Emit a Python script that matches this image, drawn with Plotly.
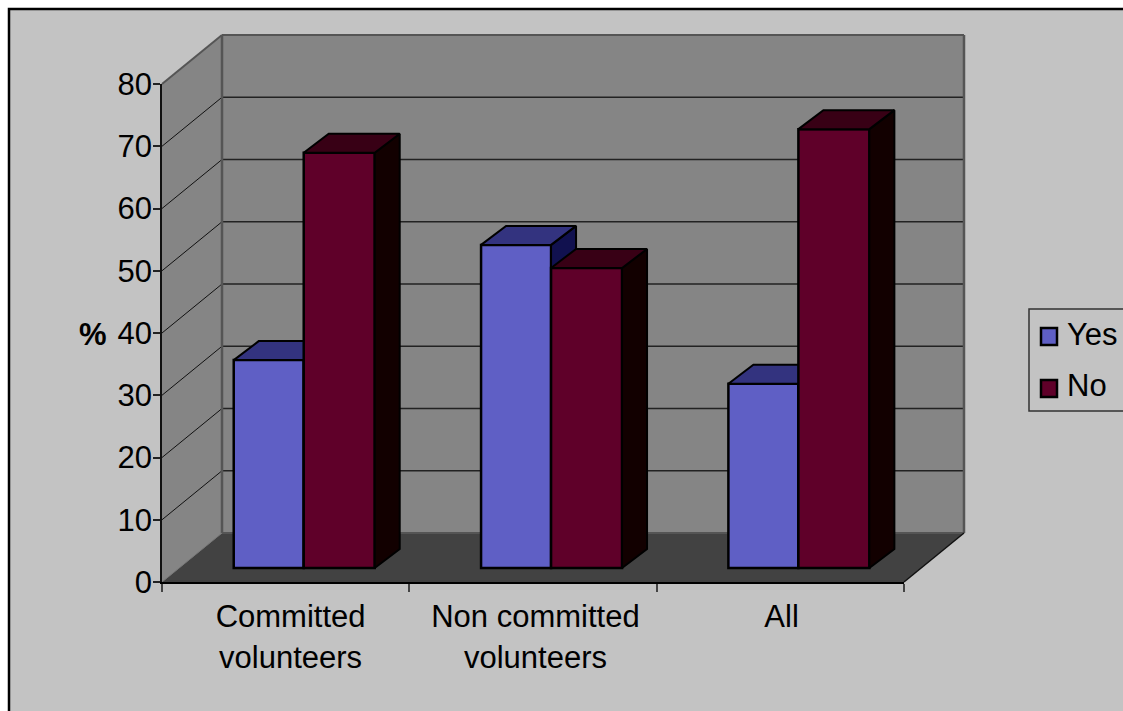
import plotly.graph_objects as go

categories = ["Committed<br>volunteers", "Non committed<br>volunteers", "All"]
yes_values = [33.4, 51.9, 29.6]
no_values = [66.7, 48.2, 70.5]
y_ticks = [0, 10, 20, 30, 40, 50, 60, 70, 80]
series_names = ["Yes", "No"]
positions = [0.5, 1.5, 2.5]
label_positions = [0.52, 1.51, 2.505]
boundaries = [0, 1, 2, 3]

W, H = 1123, 711
AX_L, AX_R, AX_T, AX_B = 162, 904, 84, 582
DEPTH_PX = (60, 49)
PX_Y = (AX_B - AX_T) / 80

BAR_BASE = 2.25      # bars stand inside the floor
BAR_DX = 25 / ((AX_R - AX_L) / 3)
BAR_DY = 19 / PX_Y
YES_OFFSET, YES_WIDTH = -0.21, 0.283
NO_OFFSET, NO_WIDTH = 0.073, 0.287

BG = "#C3C3C3"
WALL = "#858585"
FLOOR = "#424242"
EDGE = "#555555"
YES = ["#5F5FC5", "#33337F", "#11114F"]
NO = ["#5F0029", "#380015", "#120000"]
FONT = "Liberation Sans, Arial, sans-serif"
FS = 31


def px(v):
    return v / W


def py(v):
    return 1 - v / H


def path(points):
    return "M " + " L ".join(f"{px(a):.5f} {py(b):.5f}" for a, b in points) + " Z"


shapes = []


def poly(points, fill, line=None, lw=0, layer="below"):
    shapes.append(dict(type="path", xref="paper", yref="paper", path=path(points),
                       fillcolor=fill, line=dict(color=line or fill, width=lw), layer=layer))


def seg(a, b, c, d, color, lw):
    shapes.append(dict(type="line", xref="paper", yref="paper", x0=px(a), y0=py(b), x1=px(c), y1=py(d),
                       line=dict(color=color, width=lw), layer="below"))


dx, dy = DEPTH_PX
# Frame
shapes.append(dict(type="rect", xref="paper", yref="paper", x0=px(9), y0=py(9), x1=1.02, y1=-0.02,
                   fillcolor=BG, line=dict(color="#000000", width=2.5), layer="below"))
# Walls and floor
poly([(AX_L, AX_B), (AX_L + dx, AX_B - dy), (AX_L + dx, AX_T - dy), (AX_L, AX_T)], WALL)
poly([(AX_L + dx, AX_B - dy), (AX_R + dx, AX_B - dy), (AX_R + dx, AX_T - dy), (AX_L + dx, AX_T - dy)], WALL)
poly([(AX_L, AX_B), (AX_R, AX_B), (AX_R + dx, AX_B - dy), (AX_L + dx, AX_B - dy)], FLOOR)
# Gridlines
for t in y_ticks:
    y = AX_B - t * PX_Y
    if 0 < t < 80:
        seg(AX_L, y, AX_L + dx, y - dy, "#111111", 1)
        seg(AX_L + dx, y - dy, AX_R + dx, y - dy, "#222222", 1.5)
# Wall edges
seg(AX_L, AX_T, AX_L + dx, AX_T - dy, EDGE, 2)
seg(AX_L + dx, AX_T - dy, AX_R + dx, AX_T - dy, EDGE, 2)
seg(AX_L + dx, AX_T - dy, AX_L + dx, AX_B - dy, EDGE, 2.5)
seg(AX_R + dx, AX_T - dy, AX_R + dx, AX_B - dy, EDGE, 2.5)
seg(AX_L + dx, AX_B - dy, AX_R + dx, AX_B - dy, EDGE, 2)
seg(AX_L, AX_B, AX_L + dx, AX_B - dy, "#777777", 1)
seg(AX_R, AX_B, AX_R + dx, AX_B - dy, "#111111", 1.5)

# Legend box
LEG_L, LEG_T, LEG_B = 1029, 309, 411
shapes.append(dict(type="rect", xref="paper", yref="paper", x0=px(LEG_L), y0=py(LEG_T), x1=1.02, y1=py(LEG_B),
                   fillcolor=BG, line=dict(color="#333333", width=1.5), layer="above"))
for top, color in ((328, YES[0]), (380, NO[0])):
    shapes.append(dict(type="rect", xref="paper", yref="paper", x0=px(1041), y0=py(top), x1=px(1057), y1=py(top + 17),
                       fillcolor=color, line=dict(color="#000000", width=2.5), layer="above"))

annotations = [
    dict(text=series_names[0], x=px(1065), y=py(335), xref="paper", yref="paper", xanchor="left", yanchor="middle",
         showarrow=False, font=dict(family=FONT, size=FS, color="#000000")),
    dict(text=series_names[1], x=px(1065), y=py(386), xref="paper", yref="paper", xanchor="left", yanchor="middle",
         showarrow=False, font=dict(family=FONT, size=FS, color="#000000")),
    dict(text="<b>%</b>", x=px(93), y=py(335), xref="paper", yref="paper", xanchor="center", yanchor="middle",
         showarrow=False, font=dict(family=FONT, size=FS, color="#000000")),
]

fig = go.Figure()


def add_series(name, values, offset, width, colors, xa, ya):
    fig.add_trace(go.Bar(x=positions, y=values, base=BAR_BASE, name=name, offset=offset, width=width,
                         marker=dict(color=colors[0], line=dict(color="#000000", width=2.5)),
                         xaxis=xa, yaxis=ya, showlegend=False))
    for p, v in zip(positions, values):
        xl, xr = p + offset, p + offset + width
        top = BAR_BASE + v
        fig.add_trace(go.Scatter(
            x=[xr, xr + BAR_DX, xr + BAR_DX, xr, xr],
            y=[BAR_BASE, BAR_BASE + BAR_DY, top + BAR_DY, top, BAR_BASE],
            mode="lines", fill="toself", fillcolor=colors[2], line=dict(color="#000000", width=2),
            xaxis=xa, yaxis=ya, showlegend=False, hoverinfo="skip", cliponaxis=False))
        fig.add_trace(go.Scatter(
            x=[xl, xl + BAR_DX, xr + BAR_DX, xr, xl],
            y=[top, top + BAR_DY, top + BAR_DY, top, top],
            mode="lines", fill="toself", fillcolor=colors[1], line=dict(color="#000000", width=2),
            xaxis=xa, yaxis=ya, showlegend=False, hoverinfo="skip", cliponaxis=False))


add_series(series_names[0], yes_values, YES_OFFSET, YES_WIDTH, YES, "x", "y")
add_series(series_names[1], no_values, NO_OFFSET, NO_WIDTH, NO, "x2", "y2")

domain_x = [px(AX_L), px(AX_R)]
domain_y = [py(AX_B), py(AX_T)]
fig.update_layout(
    width=W, height=H, autosize=False, margin=dict(l=0, r=0, t=0, b=0),
    paper_bgcolor="#FFFFFF", plot_bgcolor="rgba(0,0,0,0)", showlegend=False,
    shapes=shapes, annotations=annotations,
    font=dict(family=FONT, size=FS, color="#000000"),
    xaxis=dict(domain=domain_x, range=[0, 3], tickmode="array", tickvals=label_positions, ticktext=categories,
               ticks="", showgrid=False, zeroline=False, showline=True, linecolor="#000000", linewidth=2,
               ticklabelstandoff=6, tickangle=0, automargin=False,
               minor=dict(tickmode="array", tickvals=boundaries, ticks="outside", ticklen=8,
                          tickcolor="#444444", tickwidth=1.5, showgrid=False),
               tickfont=dict(family=FONT, size=FS, color="#000000")),
    yaxis=dict(domain=domain_y, range=[0, 80], tickmode="array", tickvals=y_ticks, automargin=False,
               ticks="outside", ticklen=7, tickcolor="#222222", tickwidth=1.5, ticklabelstandoff=-5,
               showgrid=False, zeroline=False, showline=True, linecolor="#111111", linewidth=1.5,
               tickfont=dict(family=FONT, size=FS, color="#000000")),
    xaxis2=dict(domain=domain_x, range=[0, 3], overlaying="x", anchor="y2", visible=False, automargin=False),
    yaxis2=dict(domain=domain_y, range=[0, 80], overlaying="y", anchor="x2", visible=False, automargin=False),
)

fig.write_html("out.html", config=dict(displayModeBar=False),
               post_script="document.body.style.margin='0';document.documentElement.style.overflow='hidden';")
